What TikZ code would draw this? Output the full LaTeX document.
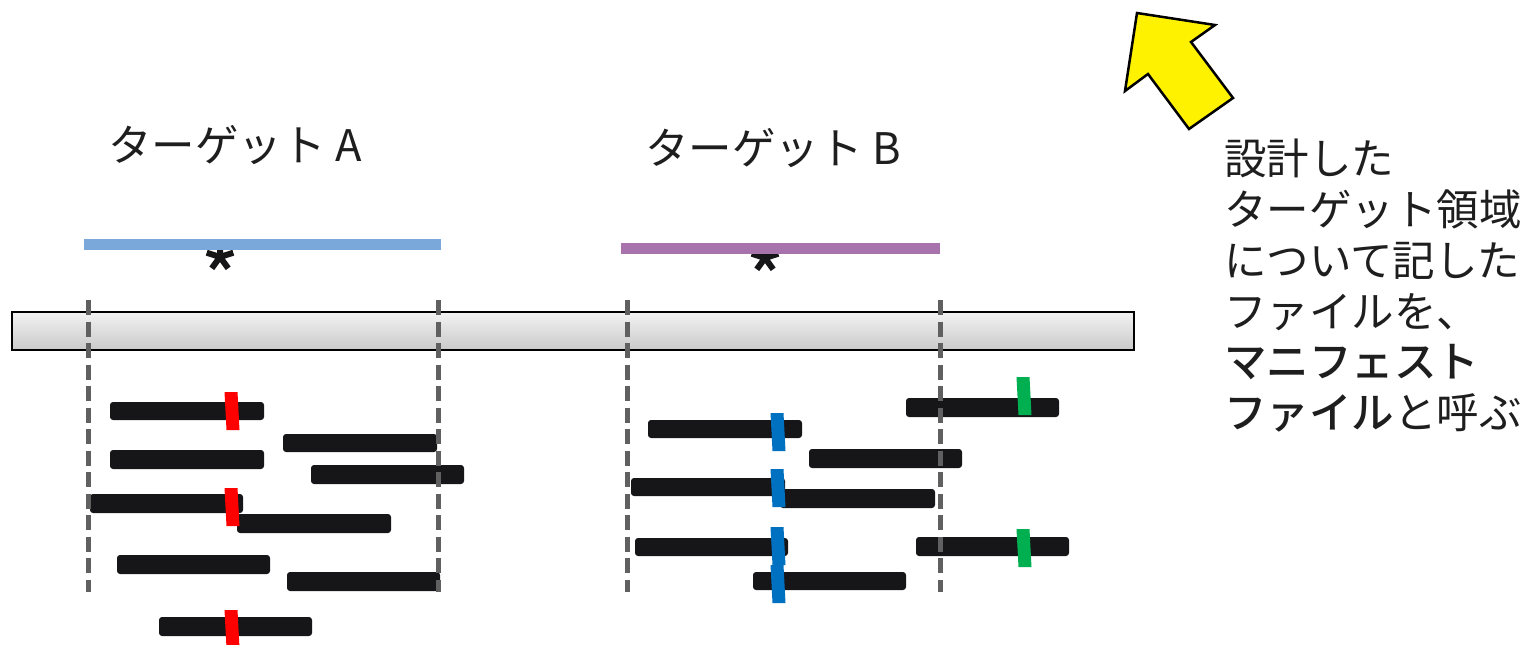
\documentclass[tikz,border=0pt]{standalone}
\usepackage{fontspec}
\setmainfont{Noto Sans CJK JP}[BoldFont={Noto Sans CJK JP Medium}]
\definecolor{readblack}{RGB}{22,22,24}
\definecolor{guidegray}{RGB}{96,96,96}
\definecolor{barblue}{RGB}{122,168,218}
\definecolor{barpurple}{RGB}{168,114,172}
\definecolor{snpred}{RGB}{255,0,0}
\definecolor{snpblue}{RGB}{0,112,192}
\definecolor{snpgreen}{RGB}{0,176,80}
\definecolor{txt}{RGB}{30,30,30}
\newcommand\readbar[4]{\fill[read] (#1,#2) rectangle (#3,#4);}
\newcommand\snp[3]{\fill[#1, shift={(#2,#3)}] (-7.5,-19) -- (5.5,-19) -- (7.5,19) -- (-5.5,19) -- cycle;}
\newcommand\astx[2]{\draw[astline, shift={(#1,#2)}] (0,0) -- (0,-13) (0,0) -- (13.3,-4.3) (0,0) -- (-13.3,-4.3) (0,0) -- (8.2,11.3) (0,0) -- (-8.2,11.3);}
\begin{document}
\begin{tikzpicture}[x=1pt,y=-1pt,
  read/.style={fill=readblack, rounded corners=3pt},
  guide/.style={draw=guidegray, line width=5pt, dash pattern=on 15pt off 6.5pt},
  lbl/.style={font=\fontsize{42.5}{50}\selectfont, text=txt, anchor=base west, inner sep=0pt},
  title/.style={font=\fontsize{43.5}{50}\selectfont, text=txt, anchor=base west, inner sep=0pt},
  astline/.style={draw=readblack, line width=6pt}]
\useasboundingbox (0,0) rectangle (1526,645);
% titles
\node[title] (ta) at (108,161) {ターゲット A};
\node[title] (tb) at (645,164) {ターゲット B};
% asterisks then target bars
\astx{220}{257}
\astx{765}{258}
\fill[barblue] (84,239) rectangle (441,250);
\fill[barpurple] (621,243) rectangle (940,254);
% chromosome
\draw[line width=2pt, top color=gray!10, bottom color=gray!42] (12,312) rectangle (1134,350);
% reads, group A
\readbar{110}{402}{264}{420}
\readbar{283}{434}{437}{452}
\readbar{110}{450}{264}{469}
\readbar{311}{465}{464}{484}
\readbar{90}{494}{243}{513}
\readbar{237}{514}{391}{533}
\readbar{117}{555}{270}{574}
\readbar{287}{572}{440}{591}
\readbar{159}{617}{312}{636}
% reads, group B
\readbar{648}{420}{802}{438}
\readbar{906}{398}{1059}{417}
\readbar{809}{449}{962}{468}
\readbar{631}{478}{785}{496}
\readbar{780}{489}{935}{508}
\readbar{635}{538}{788}{556}
\readbar{916}{537}{1069}{556}
\readbar{753}{572}{906}{590}
% guides
\foreach \gx in {88,438,627,940} \draw[guide] (\gx,300) -- (\gx,592);
% SNP marks
\snp{snpred}{232}{411}
\snp{snpred}{232}{507}
\snp{snpred}{232}{629}
\snp{snpblue}{778}{432}
\snp{snpblue}{778}{488}
\snp{snpblue}{778}{546}
\snp{snpblue}{778}{584}
\snp{snpgreen}{1024}{396}
\snp{snpgreen}{1024}{548}
% arrow
\draw[fill=yellow, draw=black, line width=2.5pt, line join=miter] (1137,13) -- (1215,25) -- (1191,42) -- (1233,98) -- (1189,129) -- (1148,74) -- (1125,91) -- cycle;
% note
\node[lbl] (n1) at (1224,174) {設計した};
\node[lbl] (n2) at (1224,225) {ターゲット領域};
\node[lbl] (n3) at (1224,276) {について記した};
\node[lbl] (n4) at (1224,327) {ファイルを、};
\node[lbl] (n5) at (1224,377) {\bfseries マニフェスト};
\node[lbl] (n6) at (1224,428) {{\bfseries ファイル}と呼ぶ};
\end{tikzpicture}
\end{document}
